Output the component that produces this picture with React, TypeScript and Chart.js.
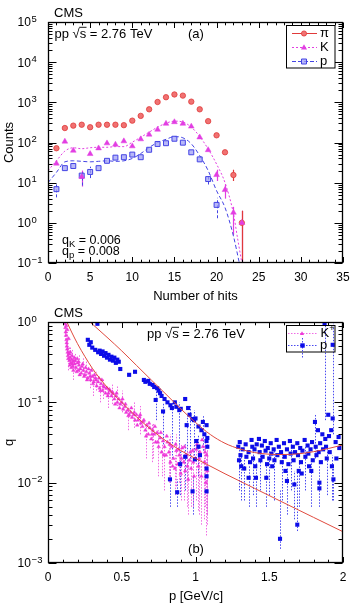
import React, { useEffect, useRef } from "react";
import { Chart, registerables } from "chart.js";

Chart.register(...registerables);

const FF = "'Liberation Sans', Arial, Helvetica, sans-serif";

// ---------------- Panel (a): counts vs number of hits ----------------
const hits = [1, 2, 3, 4, 5, 6, 7, 8, 9, 10, 11, 12, 13, 14, 15, 16, 17, 18, 19, 20, 21, 22, 23];
const pionCounts = [72, 229, 263, 277, 240, 277, 277, 277, 270, 350, 460, 670, 1020, 1340, 1570, 1470, 1040, 670, 340, 151, 57, 15.5, 1.0];
const kaonCounts = [30, 106, 63, 14, 52, 72, 96, 89, 108, 81, 121, 158, 210, 295, 323, 295, 251, 135, 65, 15.6, 6.6, 1.8, 1.0];
const protonCounts = [6.9, 23, 26, 15, 18.5, 23, 35, 42, 43, 50, 43, 66, 92, 96, 124, 99, 57, 38, 12.3, 2.8];
const pionErrors = [null, null, null, null, null, null, null, null, null, null, null, null, null, null, null, null, null, null, null, null, null, [11, 21], [0.05, 2.0]];
const kaonErrors = [null, null, null, [8, 20], null, null, null, null, null, null, null, null, null, null, null, null, null, null, null, [11, 21], [4, 9], [0.5, 2.5], [0.05, 2.0]];
const protonErrors = [[4.3, 10], null, null, [8.5, 20], [13, 25], null, null, null, null, null, null, null, null, null, null, null, null, null, [9, 16], [1.3, 4.2]];
const kaonFitHits = [0, 1, 2, 3, 4, 5, 6, 7, 8, 9, 10, 11, 12, 13, 14, 15, 16, 17, 18, 19, 20, 21, 22, 22.5, 23];
const kaonFitCounts = [20, 35, 61, 74, 70, 74, 76, 76, 79, 79, 102, 135, 181, 241, 302, 340, 323, 241, 141, 69, 29, 10, 1.7, 0.4, 0.1];
const protonFitHits = [0, 1, 2, 3, 4, 5, 6, 7, 8, 9, 10, 11, 12, 13, 14, 15, 16, 17, 18, 19, 20, 21, 22, 22.7];
const protonFitCounts = [10, 18, 33, 35, 34, 33, 34, 35, 34, 35, 40, 53, 75, 100, 120, 140, 131, 93, 47, 20, 6.3, 2.4, 0.47, 0.1];
const hitTicks = [0, 5, 10, 15, 20, 25, 30, 35];
const countDecades = [-1, 0, 1, 2, 3, 4, 5];

// ---------------- Panel (b): q vs momentum ----------------
// rows: [p, q, errLow?, errHigh?]
const kaonQ = [
  [0.115, 0.95], [0.118, 0.85, 0.6, 1.0], [0.12, 0.75], [0.122, 0.68], [0.124, 0.9], [0.125, 0.6],
  [0.127, 0.55, 0.4, 0.75], [0.128, 0.5], [0.13, 0.46], [0.131, 0.8], [0.133, 0.42], [0.135, 0.38],
  [0.137, 0.35, 0.25, 0.5], [0.14, 0.62], [0.145, 0.33], [0.15, 0.36], [0.155, 0.31], [0.16, 0.34],
  [0.165, 0.3], [0.17, 0.28], [0.175, 0.33], [0.18, 0.3], [0.19, 0.27], [0.2, 0.31], [0.205, 0.25],
  [0.21, 0.29], [0.22, 0.26], [0.225, 0.23], [0.23, 0.28], [0.24, 0.25], [0.25, 0.22], [0.26, 0.24],
  [0.27, 0.2], [0.28, 0.23], [0.29, 0.19], [0.3, 0.21], [0.31, 0.18], [0.32, 0.2], [0.33, 0.16],
  [0.34, 0.18], [0.35, 0.15], [0.36, 0.17], [0.37, 0.14], [0.38, 0.155], [0.39, 0.13], [0.4, 0.15],
  [0.41, 0.13], [0.42, 0.14], [0.43, 0.12], [0.44, 0.13], [0.45, 0.11], [0.46, 0.12], [0.47, 0.1],
  [0.48, 0.11], [0.49, 0.095], [0.5, 0.1], [0.51, 0.082], [0.52, 0.088], [0.53, 0.075], [0.54, 0.08],
  [0.55, 0.07], [0.56, 0.075], [0.57, 0.065], [0.58, 0.07], [0.59, 0.06], [0.6, 0.07], [0.61, 0.06],
  [0.62, 0.066], [0.63, 0.055], [0.64, 0.05], [0.65, 0.06], [0.66, 0.045], [0.67, 0.052], [0.68, 0.04],
  [0.69, 0.048], [0.7, 0.035], [0.71, 0.045, 0.02, 0.055], [0.72, 0.04], [0.73, 0.032], [0.74, 0.042],
  [0.75, 0.028], [0.76, 0.036], [0.77, 0.024, 0.012, 0.03], [0.78, 0.033], [0.79, 0.028], [0.8, 0.022],
  [0.81, 0.032], [0.82, 0.024, 0.01, 0.035], [0.83, 0.018], [0.84, 0.028], [0.85, 0.02],
  [0.86, 0.015, 0.007, 0.022], [0.87, 0.025], [0.88, 0.017], [0.89, 0.022, 0.01, 0.03], [0.9, 0.013],
  [0.91, 0.027], [0.92, 0.018, 0.006, 0.026], [0.93, 0.014], [0.94, 0.022], [0.95, 0.011, 0.004, 0.02],
  [0.96, 0.019], [0.97, 0.015, 0.005, 0.022], [0.98, 0.025], [0.99, 0.012], [1.0, 0.02, 0.006, 0.03],
  [1.01, 0.03], [1.02, 0.016, 0.0045, 0.025], [1.03, 0.024], [1.04, 0.012, 0.003, 0.02], [1.05, 0.028],
  [1.06, 0.018, 0.0035, 0.03], [1.07, 0.01, 0.0022, 0.02], [1.075, 0.022, 0.004, 0.033], [1.08, 0.014, 0.003, 0.025],
  [0.142, 0.4, 0.3, 0.5], [0.148, 0.29], [0.152, 0.42, 0.3, 0.5], [0.158, 0.27], [0.163, 0.38, 0.28, 0.46], [0.168, 0.32],
  [0.172, 0.25, 0.19, 0.32], [0.178, 0.36], [0.185, 0.33, 0.25, 0.4], [0.195, 0.24], [0.198, 0.35], [0.208, 0.32, 0.24, 0.39],
  [0.215, 0.22], [0.235, 0.3, 0.22, 0.36], [0.245, 0.21], [0.255, 0.27, 0.2, 0.33], [0.265, 0.19], [0.275, 0.26],
  [0.285, 0.21, 0.15, 0.26], [0.295, 0.25], [0.305, 0.17, 0.12, 0.22], [0.315, 0.22], [0.325, 0.19, 0.14, 0.24],
  [0.345, 0.2], [0.355, 0.14, 0.1, 0.18], [0.365, 0.19], [0.375, 0.16, 0.11, 0.2], [0.395, 0.15], [0.405, 0.12, 0.085, 0.15],
  [0.415, 0.145], [0.435, 0.135, 0.095, 0.17], [0.455, 0.095], [0.465, 0.13, 0.09, 0.16], [0.485, 0.085],
  [0.505, 0.11, 0.075, 0.14], [0.525, 0.095], [0.545, 0.068, 0.045, 0.09], [0.565, 0.085], [0.585, 0.075, 0.048, 0.1],
  [0.605, 0.052], [0.625, 0.07, 0.04, 0.09], [0.645, 0.058], [0.665, 0.038, 0.02, 0.05], [0.685, 0.055],
  [0.705, 0.04, 0.018, 0.055], [0.725, 0.05], [0.745, 0.032, 0.012, 0.045], [0.765, 0.042], [0.785, 0.022, 0.008, 0.03],
  [0.805, 0.038], [0.825, 0.03, 0.01, 0.04], [0.845, 0.016], [0.865, 0.03, 0.009, 0.04], [0.885, 0.026],
  [0.905, 0.02, 0.006, 0.03], [0.925, 0.028], [0.945, 0.016, 0.005, 0.025], [0.965, 0.024], [0.985, 0.018, 0.005, 0.028],
  [1.005, 0.026], [1.025, 0.02, 0.004, 0.03], [1.045, 0.034], [1.065, 0.024, 0.005, 0.035],
];
const protonQ = [
  [0.27, 0.6], [0.28, 0.52], [0.29, 0.56], [0.3, 0.48], [0.32, 0.45], [0.335, 0.95], [0.34, 0.42],
  [0.35, 0.44], [0.36, 0.4], [0.37, 0.43], [0.38, 0.38], [0.39, 0.41], [0.4, 0.36], [0.41, 0.39],
  [0.42, 0.34], [0.43, 0.37], [0.44, 0.33], [0.45, 0.36], [0.46, 0.31], [0.47, 0.34], [0.48, 0.32],
  [0.49, 0.26], [0.55, 0.22], [0.59, 0.24], [0.65, 0.19], [0.66, 0.18], [0.68, 0.185], [0.69, 0.17],
  [0.71, 0.165], [0.72, 0.155], [0.73, 0.107, 0.06, 0.14], [0.74, 0.15], [0.75, 0.14], [0.76, 0.13],
  [0.77, 0.12], [0.78, 0.077, 0.03, 0.1], [0.79, 0.11], [0.81, 0.1], [0.83, 0.092], [0.84, 0.085, 0.02, 0.1],
  [0.86, 0.1], [0.87, 0.088], [0.89, 0.08, 0.025, 0.1], [0.9, 0.083], [0.93, 0.11], [0.94, 0.052, 0.012, 0.07],
  [0.95, 0.085], [0.96, 0.07, 0.02, 0.09], [0.98, 0.062], [0.99, 0.06, 0.02, 0.08],
  [1.0, 0.063], [1.02, 0.05], [1.04, 0.045], [1.05, 0.057, 0.025, 0.07], [1.06, 0.04], [1.075, 0.052], [1.08, 0.036],
  [1.005, 0.033], [1.02, 0.028, 0.012, 0.04], [1.03, 0.022], [1.075, 0.033], [1.08, 0.028],
  [0.93, 0.021, 0.008, 0.03], [0.996, 0.0195], [0.896, 0.017, 0.007, 0.025], [1.075, 0.015],
  [1.075, 0.012, 0.004, 0.02], [0.827, 0.011, 0.005, 0.016], [1.075, 0.0078], [0.98, 0.0078, 0.004, 0.012],
  [0.876, 0.0076, 0.005, 0.011],
  [1.29, 0.028], [1.295, 0.019, 0.008, 0.026], [1.3, 0.032], [1.305, 0.022], [1.31, 0.016, 0.006, 0.022],
  [1.32, 0.026], [1.33, 0.015, 0.006, 0.02], [1.34, 0.03], [1.345, 0.021], [1.36, 0.024], [1.36, 0.0115, 0.005, 0.016],
  [1.37, 0.018], [1.38, 0.034], [1.385, 0.028], [1.39, 0.02, 0.007, 0.026], [1.4, 0.026], [1.405, 0.016],
  [1.41, 0.0115, 0.005, 0.018], [1.415, 0.03], [1.43, 0.035], [1.435, 0.024], [1.44, 0.019, 0.008, 0.026],
  [1.45, 0.029], [1.455, 0.021], [1.47, 0.033], [1.475, 0.025], [1.48, 0.0115, 0.005, 0.018], [1.485, 0.017],
  [1.49, 0.027], [1.5, 0.02, 0.007, 0.026], [1.51, 0.031], [1.515, 0.023], [1.52, 0.016], [1.53, 0.026],
  [1.535, 0.019, 0.006, 0.025], [1.55, 0.034], [1.555, 0.022], [1.565, 0.028], [1.573, 0.002, 0.0015, 0.008],
  [1.58, 0.024], [1.585, 0.018, 0.006, 0.024], [1.6, 0.031], [1.605, 0.021], [1.61, 0.014], [1.62, 0.026],
  [1.62, 0.0105, 0.004, 0.015], [1.63, 0.017], [1.64, 0.033], [1.645, 0.023, 0.008, 0.03], [1.66, 0.028],
  [1.665, 0.019], [1.67, 0.0095, 0.0035, 0.014], [1.675, 0.024], [1.69, 0.031], [1.69, 0.003, 0.0025, 0.014],
  [1.695, 0.022], [1.7, 0.014, 0.005, 0.02], [1.71, 0.027], [1.715, 0.018], [1.72, 0.013], [1.725, 0.025],
  [1.74, 0.034], [1.745, 0.021, 0.008, 0.028], [1.76, 0.029], [1.765, 0.023], [1.77, 0.016], [1.78, 0.026],
  [1.785, 0.014, 0.005, 0.02], [1.79, 0.032], [1.795, 0.019], [1.81, 0.057, 0.02, 0.07], [1.815, 0.028],
  [1.82, 0.022], [1.83, 0.045], [1.835, 0.024], [1.84, 0.01, 0.005, 0.016], [1.84, 0.0085], [1.845, 0.031],
  [1.85, 0.018], [1.86, 0.04], [1.865, 0.026], [1.875, 0.96, 0.06, 1.0], [1.88, 0.035], [1.885, 0.028],
  [1.89, 0.02, 0.007, 0.026], [1.9, 0.07], [1.905, 0.038], [1.91, 0.024], [1.92, 0.045],
  [1.925, 0.016, 0.006, 0.022], [1.93, 0.52, 0.04, 1.0], [1.93, 0.063], [1.935, 0.011, 0.006, 0.016],
  [1.95, 0.032], [1.955, 0.02], [1.97, 0.037], [1.975, 0.027],
];
const kaonFitP = [0.128, 0.16, 0.2, 0.25, 0.3, 0.35, 0.4, 0.45, 0.5, 0.6, 0.7, 0.8, 0.9, 1.0, 1.2, 1.4, 1.6, 1.8, 2.0];
const kaonFitQ = [1.0, 0.75, 0.537, 0.372, 0.266, 0.2, 0.155, 0.123, 0.1, 0.066, 0.0457, 0.0331, 0.0251, 0.02, 0.0129, 0.0085, 0.0056, 0.0037, 0.00245];
const protonFitP = [0.285, 0.4, 0.5, 0.6, 0.7, 0.8, 0.9, 1.0, 1.1, 1.2, 1.3, 1.4, 1.5, 1.6, 1.7, 1.8, 1.9, 2.0];
const protonFitQ = [1.0, 0.646, 0.437, 0.288, 0.19, 0.126, 0.083, 0.0562, 0.0398, 0.0309, 0.0263, 0.0237, 0.0226, 0.0224, 0.0229, 0.0243, 0.0266, 0.0295];
const momentumTicks = [0, 0.5, 1, 1.5, 2];
const momentumTickLabels = ["0", "0.5", "1", "1.5", "2"];
const qDecades = [-3, -2, -1, 0];

// ---------------- helpers ----------------
const xy = (xs: number[], ys: number[]) => ys.map((y, i) => ({ x: xs[i], y }));
const rowsData = (rows: number[][]) => rows.map((r) => ({ x: r[0], y: r[1] }));
const rowsErr = (rows: number[][]) => rows.map((r) => (r.length >= 4 ? [r[2], r[3]] : null));

function font(size: number) {
  return `${size}px ${FF}`;
}

function drawMarker(ctx: any, style: string, x: number, y: number, r: number, fill: string | null, stroke: string | null, lw = 1) {
  ctx.save();
  ctx.setLineDash([]);
  ctx.beginPath();
  if (style === "circle") ctx.arc(x, y, r, 0, Math.PI * 2);
  else if (style === "triangle") {
    ctx.moveTo(x, y - r);
    ctx.lineTo(x + r * 0.95, y + r * 0.65);
    ctx.lineTo(x - r * 0.95, y + r * 0.65);
    ctx.closePath();
  } else ctx.rect(x - r, y - r, 2 * r, 2 * r);
  if (fill) {
    ctx.fillStyle = fill;
    ctx.fill();
  }
  if (stroke) {
    ctx.strokeStyle = stroke;
    ctx.lineWidth = lw;
    ctx.stroke();
  }
  ctx.restore();
}

function hline(ctx: any, x0: number, x1: number, y: number, color: string, dash: number[]) {
  ctx.save();
  ctx.strokeStyle = color;
  ctx.lineWidth = 1;
  ctx.setLineDash(dash);
  ctx.beginPath();
  ctx.moveTo(x0, y);
  ctx.lineTo(x1, y);
  ctx.stroke();
  ctx.restore();
}

function drawFrame(chart: any, xMin: number, xMax: number, xMinor: number, every: number, decades: number[], xTicks: number[], xLabels: string[]) {
  const { ctx, chartArea: a } = chart;
  const xs = chart.scales.x;
  const ys = chart.scales.y;
  ctx.save();
  ctx.strokeStyle = "#000";
  ctx.lineWidth = 1;
  ctx.setLineDash([]);
  const L = Math.round(a.left) + 0.5;
  const R = Math.round(a.right) - 0.5;
  const T = Math.round(a.top) + 0.5;
  const B = Math.round(a.bottom) - 0.5;
  ctx.beginPath();
  const n = Math.round((xMax - xMin) / xMinor);
  for (let i = 0; i <= n; i++) {
    const v = xMin + i * xMinor;
    const px = Math.round(xs.getPixelForValue(v)) + 0.5;
    const len = i % every === 0 ? 5.5 : 2.8;
    ctx.moveTo(px, B);
    ctx.lineTo(px, B - len);
    ctx.moveTo(px, T);
    ctx.lineTo(px, T + len);
  }
  const dMin = decades[0];
  const dMax = decades[decades.length - 1];
  for (let d = dMin; d <= dMax; d++) {
    for (let m = 1; m <= 9; m++) {
      if (d === dMax && m > 1) break;
      const v = m * Math.pow(10, d);
      const py = Math.round(ys.getPixelForValue(v)) + 0.5;
      const len = m === 1 ? 8 : 4;
      ctx.moveTo(L, py);
      ctx.lineTo(L + len, py);
      ctx.moveTo(R, py);
      ctx.lineTo(R - len, py);
    }
  }
  ctx.stroke();
  ctx.lineWidth = 1.3;
  ctx.strokeRect(L, T, R - L, B - T);

  ctx.fillStyle = "#000";
  ctx.textBaseline = "middle";
  ctx.textAlign = "center";
  ctx.font = font(12);
  xTicks.forEach((v, i) => {
    ctx.fillText(xLabels[i], xs.getPixelForValue(v), a.bottom + 14.2);
  });
  ctx.textBaseline = "alphabetic";
  decades.forEach((d) => {
    const py = ys.getPixelForValue(Math.pow(10, d));
    ctx.textAlign = "right";
    ctx.font = font(12);
    ctx.fillText("10", 30.8, py + 4.4);
    ctx.textAlign = "left";
    ctx.font = font(9.5);
    ctx.fillText(d < 0 ? "\u2212" + String(-d) : String(d), 31.6, py - 0.2);
  });
  ctx.restore();
}

function drawEnergyLabel(ctx: any, x: number, y: number) {
  ctx.save();
  ctx.fillStyle = "#000";
  ctx.textAlign = "left";
  ctx.textBaseline = "alphabetic";
  ctx.font = font(13);
  let cx = x;
  ctx.fillText("pp ", cx, y);
  cx += ctx.measureText("pp ").width;
  ctx.fillText("\u221A", cx, y);
  const rw = ctx.measureText("\u221A").width;
  cx += rw;
  ctx.fillText("s", cx, y);
  const sw = ctx.measureText("s").width;
  ctx.strokeStyle = "#000";
  ctx.lineWidth = 0.9;
  ctx.beginPath();
  ctx.moveTo(cx - 0.5, y - 10.2);
  ctx.lineTo(cx + sw + 0.3, y - 10.2);
  ctx.stroke();
  cx += sw;
  ctx.fillText(" = 2.76 TeV", cx, y);
  ctx.restore();
}

function drawRotated(ctx: any, text: string, x: number, y: number, size: number) {
  ctx.save();
  ctx.translate(x, y);
  ctx.rotate(-Math.PI / 2);
  ctx.fillStyle = "#000";
  ctx.font = font(size);
  ctx.textAlign = "center";
  ctx.textBaseline = "middle";
  ctx.fillText(text, 0, 0);
  ctx.restore();
}

const errorBarPlugin = {
  id: "errbars",
  beforeDatasetsDraw(chart: any) {
    const { ctx, chartArea: a } = chart;
    const xs = chart.scales.x;
    const ys = chart.scales.y;
    ctx.save();
    ctx.beginPath();
    ctx.rect(a.left, a.top, a.right - a.left, a.bottom - a.top);
    ctx.clip();
    chart.data.datasets.forEach((ds: any) => {
      if (!ds.errBars) return;
      ctx.strokeStyle = ds.errColor;
      ctx.lineWidth = ds.errWidth || 1;
      ctx.setLineDash(ds.errDash || []);
      ds.errBars.forEach((e: any, i: number) => {
        if (!e) return;
        const p = ds.data[i];
        const px = Math.round(xs.getPixelForValue(p.x)) + 0.5;
        ctx.beginPath();
        ctx.moveTo(px, ys.getPixelForValue(e[0]));
        ctx.lineTo(px, ys.getPixelForValue(e[1]));
        ctx.stroke();
      });
    });
    ctx.restore();
  },
};

const PI_FILL = "#f07272";
const PI_LINE = "#e03a3a";
const KA_COL = "#e23ee2";
const PR_LINE = "#4444e4";
const PR_FILL = "rgba(160,160,245,0.75)";

function configA() {
  const decor = {
    id: "decorA",
    afterDraw(chart: any) {
      const ctx = chart.ctx;
      drawFrame(chart, 0, 35, 1, 5, countDecades, hitTicks, hitTicks.map(String));
      ctx.save();
      ctx.fillStyle = "#000";
      ctx.textAlign = "left";
      ctx.textBaseline = "alphabetic";
      ctx.font = font(13);
      ctx.fillText("CMS", 54, 17);
      ctx.fillText("(a)", 188, 37.5);
      drawEnergyLabel(ctx, 54.5, 37.5);
      ctx.font = font(12.5);
      ctx.fillText("q", 62, 243.5);
      const w = ctx.measureText("q").width;
      ctx.font = font(9.5);
      ctx.fillText("K", 62 + w, 246.5);
      let w2 = ctx.measureText("K").width;
      ctx.font = font(12.5);
      ctx.fillText(" = 0.006", 62 + w + w2, 243.5);
      ctx.fillText("q", 62, 254.5);
      ctx.font = font(9.5);
      ctx.fillText("p", 62 + w, 257.5);
      w2 = ctx.measureText("p").width;
      ctx.font = font(12.5);
      ctx.fillText(" = 0.008", 62 + w + w2, 254.5);
      ctx.font = font(13);
      ctx.textAlign = "center";
      ctx.textBaseline = "middle";
      ctx.fillText("Number of hits", 195.5, 296);
      drawRotated(ctx, "Counts", 9, 142.5, 13);
      ctx.fillStyle = "#fff";
      ctx.fillRect(286, 25, 49, 43);
      ctx.strokeStyle = "#000";
      ctx.lineWidth = 1;
      ctx.strokeRect(286.5, 25.5, 48.5, 42.5);
      hline(ctx, 292, 317, 33.5, PI_LINE, []);
      drawMarker(ctx, "circle", 304, 33.5, 2.6, PI_FILL, PI_LINE, 0.8);
      hline(ctx, 292, 317, 47.5, KA_COL, [2, 2]);
      drawMarker(ctx, "triangle", 304, 47.5, 3.2, KA_COL, null);
      hline(ctx, 292, 317, 61.5, PR_LINE, [4, 2]);
      drawMarker(ctx, "rect", 304, 61.5, 2.5, PR_FILL, PR_LINE, 1);
      ctx.fillStyle = "#000";
      ctx.textAlign = "left";
      ctx.font = font(13);
      ctx.fillText("\u03C0", 320, 33.5);
      ctx.fillText("K", 320, 47.5);
      ctx.fillText("p", 320, 61);
      ctx.restore();
    },
  };
  return {
    type: "scatter",
    data: {
      datasets: [
        {
          label: "K",
          data: xy(hits, kaonCounts),
          pointStyle: "triangle",
          pointRadius: 3.3,
          backgroundColor: KA_COL,
          borderColor: KA_COL,
          pointBorderWidth: 0.5,
          errBars: kaonErrors,
          errColor: KA_COL,
          errWidth: 1.2,
          order: 1,
        },
        {
          label: "p",
          data: xy(hits, protonCounts),
          pointStyle: "rect",
          pointRadius: 3.5,
          backgroundColor: PR_FILL,
          borderColor: PR_LINE,
          pointBorderWidth: 1,
          errBars: protonErrors,
          errColor: PR_LINE,
          errDash: [3, 2],
          errWidth: 1,
          order: 2,
        },
        {
          label: "pi",
          data: xy(hits, pionCounts),
          pointStyle: "circle",
          pointRadius: 2.7,
          backgroundColor: PI_FILL,
          borderColor: PI_LINE,
          pointBorderWidth: 0.8,
          errBars: pionErrors,
          errColor: PI_LINE,
          errWidth: 1.2,
          order: 3,
        },
        {
          label: "K fit",
          data: xy(kaonFitHits, kaonFitCounts),
          showLine: true,
          pointRadius: 0,
          borderColor: KA_COL,
          borderWidth: 1,
          borderDash: [2, 2],
          cubicInterpolationMode: "monotone",
          order: 4,
        },
        {
          label: "p fit",
          data: xy(protonFitHits, protonFitCounts),
          showLine: true,
          pointRadius: 0,
          borderColor: PR_LINE,
          borderWidth: 1,
          borderDash: [4, 2.5],
          cubicInterpolationMode: "monotone",
          order: 5,
        },
      ],
    },
    options: {
      responsive: false,
      animation: false,
      devicePixelRatio: 1,
      events: [],
      layout: { padding: { left: 48, right: 8, top: 22, bottom: 37 } },
      plugins: { legend: { display: false }, tooltip: { enabled: false } },
      scales: {
        x: { type: "linear", min: 0, max: 35, display: false },
        y: { type: "logarithmic", min: 0.1, max: 100000, display: false },
      },
    },
    plugins: [errorBarPlugin, decor],
  };
}

const KB_COL = "#ee38d8";
const KB_ERR = "#f06ae4";
const PB_COL = "#0c0ce8";
const PB_ERR = "#4a4af0";
const FIT_RED = "#e04a3e";

function configB() {
  const decor = {
    id: "decorB",
    afterDraw(chart: any) {
      const ctx = chart.ctx;
      drawFrame(chart, 0, 2, 0.1, 5, qDecades, momentumTicks, momentumTickLabels);
      ctx.save();
      ctx.fillStyle = "#000";
      ctx.textAlign = "left";
      ctx.textBaseline = "alphabetic";
      ctx.font = font(13);
      ctx.fillText("CMS", 54, 17);
      drawEnergyLabel(ctx, 147, 37.5);
      ctx.textAlign = "center";
      ctx.textBaseline = "middle";
      ctx.fillText("(b)", 196, 249.5);
      ctx.fillText("p [GeV/c]", 196, 296.5);
      drawRotated(ctx, "q", 9, 142.5, 13);
      ctx.strokeStyle = "#000";
      ctx.lineWidth = 1;
      ctx.setLineDash([]);
      ctx.strokeRect(286.5, 25.5, 48.5, 26.5);
      hline(ctx, 288, 317, 33.5, KB_ERR, [1.5, 1.5]);
      drawMarker(ctx, "triangle", 302, 33.5, 2.2, KB_COL, null);
      hline(ctx, 288, 317, 45.5, PB_ERR, [1.5, 1.5]);
      ctx.save();
      ctx.strokeStyle = PB_ERR;
      ctx.setLineDash([1.5, 1.5]);
      ctx.beginPath();
      ctx.moveTo(302.5, 38);
      ctx.lineTo(302.5, 58);
      ctx.stroke();
      ctx.restore();
      drawMarker(ctx, "rect", 302.5, 45.5, 2.2, PB_COL, null);
      ctx.fillStyle = "#000";
      ctx.textAlign = "left";
      ctx.textBaseline = "middle";
      ctx.font = font(13);
      ctx.fillText("K", 320.5, 33.5);
      const kw = ctx.measureText("K").width;
      ctx.font = font(9);
      ctx.fillText("+", 320.5 + kw, 28.5);
      ctx.font = font(13);
      ctx.fillText("p", 320, 45);
      ctx.restore();
    },
  };
  return {
    type: "scatter",
    data: {
      datasets: [
        {
          label: "K fit",
          data: xy(kaonFitP, kaonFitQ),
          showLine: true,
          pointRadius: 0,
          borderColor: FIT_RED,
          borderWidth: 1,
          cubicInterpolationMode: "monotone",
          order: 1,
        },
        {
          label: "p fit",
          data: xy(protonFitP, protonFitQ),
          showLine: true,
          pointRadius: 0,
          borderColor: FIT_RED,
          borderWidth: 1,
          cubicInterpolationMode: "monotone",
          order: 2,
        },
        {
          label: "p",
          data: rowsData(protonQ),
          pointStyle: "rect",
          pointRadius: 2.9,
          backgroundColor: PB_COL,
          borderColor: PB_COL,
          pointBorderWidth: 0,
          errBars: rowsErr(protonQ),
          errColor: PB_ERR,
          errDash: [1.5, 1.5],
          errWidth: 1,
          order: 3,
        },
        {
          label: "K+",
          data: rowsData(kaonQ),
          pointStyle: "triangle",
          pointRadius: 2.1,
          backgroundColor: KB_COL,
          borderColor: KB_COL,
          pointBorderWidth: 0.4,
          errBars: rowsErr(kaonQ),
          errColor: KB_ERR,
          errDash: [1.5, 1.5],
          errWidth: 1,
          order: 4,
        },
      ],
    },
    options: {
      responsive: false,
      animation: false,
      devicePixelRatio: 1,
      events: [],
      layout: { padding: { left: 48, right: 8, top: 22, bottom: 43 } },
      plugins: { legend: { display: false }, tooltip: { enabled: false } },
      scales: {
        x: { type: "linear", min: 0, max: 2, display: false },
        y: { type: "logarithmic", min: 0.001, max: 1, display: false },
      },
    },
    plugins: [errorBarPlugin, decor],
  };
}

function ChartCanvas({ make, width, height }: { make: () => any; width: number; height: number }) {
  const ref = useRef<HTMLCanvasElement | null>(null);
  useEffect(() => {
    const chart = new Chart(ref.current as HTMLCanvasElement, make());
    return () => chart.destroy();
  }, []);
  return <canvas ref={ref} width={width} height={height} style={{ display: "block", width, height }} />;
}

export default function App() {
  return (
    <div style={{ position: "absolute", left: 0, top: 0, width: 351, height: 606, background: "#fff" }}>
      <ChartCanvas make={configA} width={351} height={300} />
      <ChartCanvas make={configB} width={351} height={306} />
    </div>
  );
}
